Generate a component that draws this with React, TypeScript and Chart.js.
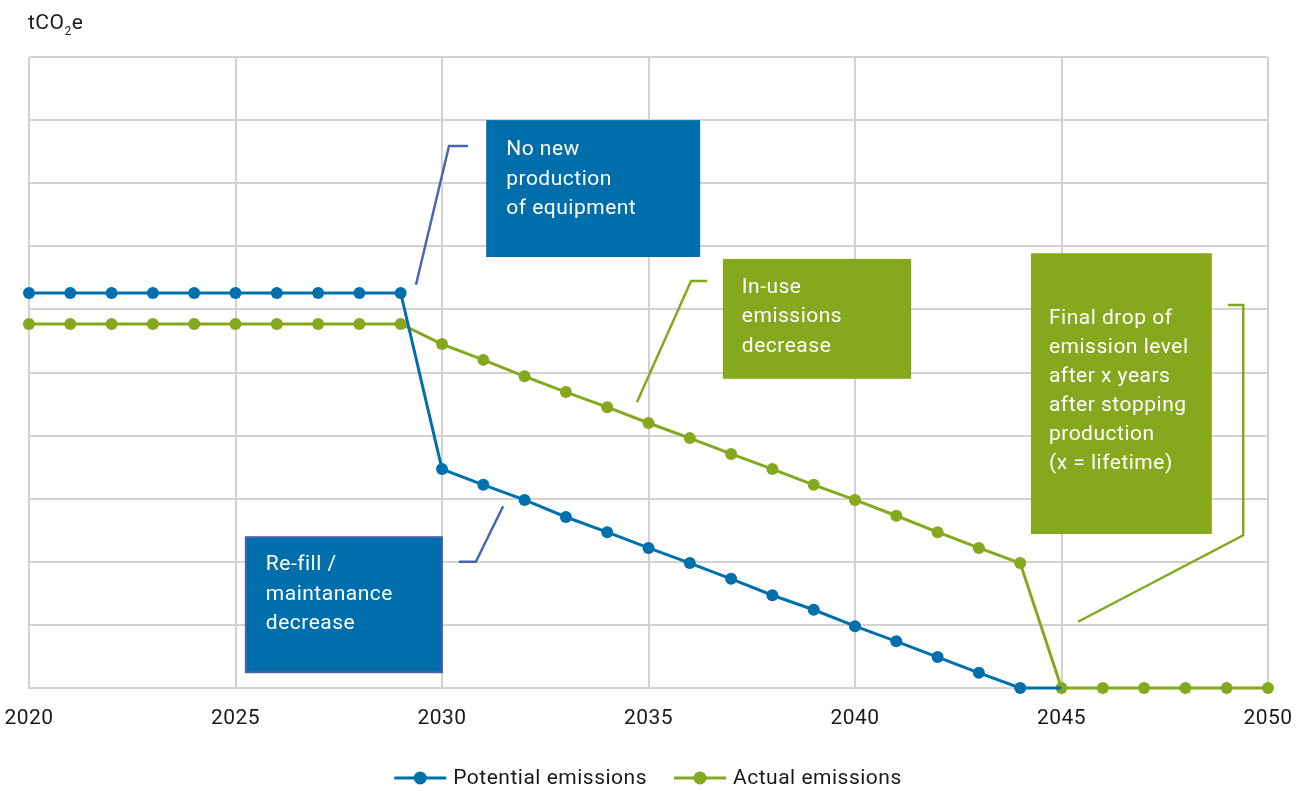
import React, { useEffect, useRef } from "react";
import { Chart, registerables } from "chart.js";

Chart.register(...registerables);

const years: number[] = [];
for (let y = 2020; y <= 2050; y++) years.push(y);

const potentialEmissions = [
  6.26, 6.26, 6.26, 6.26, 6.26, 6.26, 6.26, 6.26, 6.26, 6.26,
  3.47, 3.22, 2.98, 2.71, 2.47, 2.22, 1.98, 1.73, 1.47, 1.24,
  0.98, 0.74, 0.49, 0.24, 0, 0,
];
const actualEmissions = [
  5.77, 5.77, 5.77, 5.77, 5.77, 5.77, 5.77, 5.77, 5.77, 5.77,
  5.45, 5.2, 4.94, 4.69, 4.45, 4.2, 3.96, 3.71, 3.47, 3.22,
  2.98, 2.73, 2.47, 2.22, 1.98, 0, 0, 0, 0, 0, 0,
];
const xTickStep = 5;
const seriesLabels = ["Potential emissions", "Actual emissions"];

const BLUE = "#0070ad";
const GREEN = "#86a81e";
const BOX_BLUE = "#006eab";
const LEADER_BLUE = "#4a66ae";
const GRID = "#d2d2d2";
const FONT = "Roboto, 'Noto Sans', sans-serif";
const LS = "0.5px";

type Ann = {
  lines: string[];
  fill: string;
  border?: string;
  x0: number; x1: number; y0: number; y1: number;
  textTop: number; textLeft: number; lineH: number;
  leader: [number, number][];
  leaderColor: string;
};

const annotations: Ann[] = [
  {
    lines: ["No new", "production", "of equipment"],
    fill: BOX_BLUE,
    x0: 2031.07, x1: 2036.25, y0: 9.0, y1: 6.83,
    textTop: 30, textLeft: 20, lineH: 29.5,
    leader: [[2029.37, 6.39], [2030.17, 8.59], [2030.63, 8.59]],
    leaderColor: LEADER_BLUE,
  },
  {
    lines: ["Re-fill /", "maintanance", "decrease"],
    fill: BOX_BLUE,
    border: "#4a63ad",
    x0: 2025.25, x1: 2030.0, y0: 2.39, y1: 0.25,
    textTop: 28, textLeft: 20, lineH: 29.5,
    leader: [[2031.48, 2.88], [2030.82, 2.0], [2030.41, 2.0]],
    leaderColor: LEADER_BLUE,
  },
  {
    lines: ["In-use", "emissions", "decrease"],
    fill: GREEN,
    x0: 2036.8, x1: 2041.36, y0: 6.8, y1: 4.9,
    textTop: 29, textLeft: 19, lineH: 29.3,
    leader: [[2034.72, 4.53], [2036.03, 6.45], [2036.42, 6.45]],
    leaderColor: GREEN,
  },
  {
    lines: ["Final drop of", "emission level", "after x years", "after stopping", "production", "(x = lifetime)"],
    fill: GREEN,
    x0: 2044.26, x1: 2048.64, y0: 6.89, y1: 2.44,
    textTop: 66, textLeft: 18, lineH: 29,
    leader: [[2045.4, 1.05], [2049.4, 2.42], [2049.4, 6.07], [2049.03, 6.07]],
    leaderColor: GREEN,
  },
];

const decorPlugin = {
  id: "decor",
  beforeDraw(chart: any) {
    chart.ctx.letterSpacing = LS;
  },
  beforeDatasetsDraw(chart: any) {
    const ctx = chart.ctx;
    const xs = chart.scales.x;
    const ys = chart.scales.y;
    ctx.save();
    ctx.letterSpacing = LS;
    for (const a of annotations) {
      const l = xs.getPixelForValue(a.x0);
      const r = xs.getPixelForValue(a.x1);
      const t = ys.getPixelForValue(a.y0);
      const b = ys.getPixelForValue(a.y1);
      ctx.fillStyle = a.fill;
      ctx.fillRect(l, t, r - l, b - t);
      if (a.border) {
        ctx.strokeStyle = a.border;
        ctx.lineWidth = 2;
        ctx.strokeRect(l, t, r - l, b - t);
      }
      ctx.fillStyle = "#ffffff";
      ctx.font = `21px ${FONT}`;
      ctx.textBaseline = "middle";
      ctx.textAlign = "left";
      a.lines.forEach((ln, i) => {
        ctx.fillText(ln, l + a.textLeft, t + a.textTop + i * a.lineH);
      });
      ctx.strokeStyle = a.leaderColor;
      ctx.lineWidth = 2.5;
      ctx.beginPath();
      a.leader.forEach(([px, py], i) => {
        const X = xs.getPixelForValue(px);
        const Y = ys.getPixelForValue(py);
        if (i === 0) ctx.moveTo(X, Y);
        else ctx.lineTo(X, Y);
      });
      ctx.stroke();
    }
    ctx.restore();
  },
  afterDraw(chart: any) {
    const ctx = chart.ctx;
    const area = chart.chartArea;
    ctx.save();
    ctx.letterSpacing = LS;
    ctx.fillStyle = "#1a1a1a";
    ctx.textBaseline = "alphabetic";
    ctx.textAlign = "left";
    // unit label
    let x = area.left - 1;
    const base = 29;
    ctx.font = `21px ${FONT}`;
    ctx.fillText("tCO", x, base);
    x += ctx.measureText("tCO").width;
    ctx.font = `12px ${FONT}`;
    ctx.fillText("2", x, base + 6);
    x += ctx.measureText("2").width;
    ctx.font = `21px ${FONT}`;
    ctx.fillText("e", x, base);

    // legend
    ctx.font = `21px ${FONT}`;
    const colors = [BLUE, GREEN];
    const lineW = 52;
    const gapText = 7;
    const gapItem = 27;
    const widths = seriesLabels.map((s) => ctx.measureText(s).width);
    const total = widths.reduce((s, w) => s + lineW + gapText + w, 0) + gapItem;
    let lx = 648 - total / 2;
    const ly = 778;
    ctx.textBaseline = "middle";
    seriesLabels.forEach((s, i) => {
      ctx.strokeStyle = colors[i];
      ctx.lineWidth = 3;
      ctx.beginPath();
      ctx.moveTo(lx, ly);
      ctx.lineTo(lx + lineW, ly);
      ctx.stroke();
      ctx.fillStyle = colors[i];
      ctx.beginPath();
      ctx.arc(lx + lineW / 2, ly, 6.5, 0, Math.PI * 2);
      ctx.fill();
      ctx.fillStyle = "#1a1a1a";
      ctx.fillText(s, lx + lineW + gapText, ly + 1);
      lx += lineW + gapText + widths[i] + gapItem;
    });
    ctx.restore();
  },
};

export default function App() {
  const ref = useRef<HTMLCanvasElement | null>(null);
  useEffect(() => {
    document.body.style.margin = "0";
    if (!ref.current) return;
    const lastBlue = potentialEmissions.length - 1;
    const chart = new Chart(ref.current, {
      type: "line",
      data: {
        labels: years,
        datasets: [
          {
            label: seriesLabels[0],
            data: potentialEmissions.map((v, i) => ({ x: years[i], y: v })),
            borderColor: BLUE,
            backgroundColor: BLUE,
            borderWidth: 3,
            pointRadius: (c: any) => (c.dataIndex === lastBlue ? 0 : 6),
            pointBorderWidth: 0,
            clip: false as any,
            tension: 0,
          },
          {
            label: seriesLabels[1],
            data: actualEmissions.map((v, i) => ({ x: years[i], y: v })),
            borderColor: GREEN,
            backgroundColor: GREEN,
            borderWidth: 3,
            pointRadius: 6,
            pointBorderWidth: 0,
            clip: false as any,
            tension: 0,
          },
        ],
      },
      options: {
        responsive: false,
        animation: false,
        layout: { padding: { left: 29, right: 33, top: 57, bottom: 0 } },
        plugins: { legend: { display: false }, tooltip: { enabled: false } },
        scales: {
          x: {
            type: "linear",
            min: 2020,
            max: 2050,
            afterFit: (s: any) => {
              s.height = 103;
              s.paddingLeft = 0;
              s.paddingRight = 0;
            },
            ticks: {
              stepSize: xTickStep,
              color: "#1a1a1a",
              font: { family: FONT, size: 21 },
              padding: 18,
              maxRotation: 0,
              callback: (v: any) => String(v),
            },
            grid: { color: GRID, lineWidth: 2, drawTicks: false },
            border: { color: GRID, width: 2 },
          },
          y: {
            min: 0,
            max: 10,
            afterFit: (s: any) => { s.width = 0; },
            ticks: { display: false, stepSize: 1 },
            grid: { color: GRID, lineWidth: 2, drawTicks: false },
            border: { display: false },
          },
        },
      },
      plugins: [decorPlugin],
    });
    return () => chart.destroy();
  }, []);
  return (
    <div style={{ width: 1301, height: 791 }}>
      <canvas ref={ref} width={1301} height={791} />
    </div>
  );
}
